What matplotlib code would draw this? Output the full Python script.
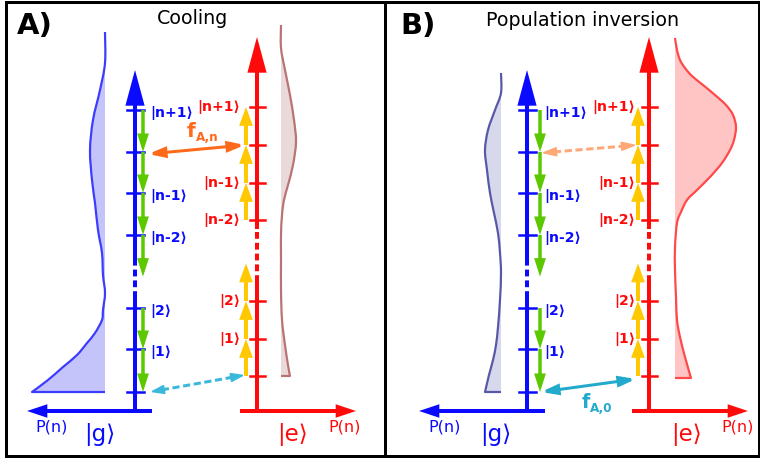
import numpy as np
import matplotlib
matplotlib.use("Agg")
import matplotlib.pyplot as plt
from matplotlib.patches import FancyArrowPatch, Rectangle, PathPatch
from matplotlib.path import Path

# energy ladders (y position of each level, px), upper and lower block
g_levels_top = [110, 152, 193, 235]
g_levels_bot = [308, 349, 392]
e_levels_top = [107, 145, 183, 220]
e_levels_bot = [301, 339, 376]

g_names_top = ["n+1", None, "n-1", "n-2"]
g_names_bot = ["2", "1", None]
e_names_top = ["n+1", None, "n-1", "n-2"]
e_names_bot = ["2", "1", None]

# P(n) profiles: y samples and width of the distribution (px)
cool_g_y = [32, 63, 90, 120, 150, 180, 203, 230, 253, 275, 293, 310, 320, 333, 343, 355, 367, 380, 392]
cool_g_p = [0, 0, 5, 12, 15, 13, 10, 7, 3, 2, 0, 2, 3, 10, 18, 28, 42, 57, 73]
cool_e_y = [25, 48, 70, 95, 120, 142, 165, 185, 200, 215, 235, 260, 290, 320, 345, 365, 376]
cool_e_p = [0, 0, 4, 9, 13, 15, 12, 7, 3, 1, 0, 0, 0, 1, 4, 7, 9]
inv_g_y = [73, 93, 110, 130, 150, 170, 193, 213, 233, 253, 273, 300, 327, 345, 360, 375, 392]
inv_g_p = [0, 0, 6, 13, 16, 14, 11, 7, 3, 1, 0, 1, 3, 5, 8, 12, 16]
inv_e_y = [38, 50, 60, 68, 76, 85, 95, 105, 115, 127, 140, 150, 163, 177, 190, 200, 212, 223, 247, 270, 297, 320, 337, 357, 378]
inv_e_p = [0, 2, 5, 10, 17, 28, 40, 51, 58, 61, 59, 55, 47, 35, 22, 12, 6, 2, 0, 0, 1, 2, 5, 10, 16]

BLUE = "#0a0aff"
RED = "#ff0a0a"
GREEN = "#5cc800"
YELLOW = "#ffc800"
ORANGE = "#ff6a1a"
CYAN = "#22aacc"

fig = plt.figure(figsize=(760 / 72, 458 / 72), dpi=72)
ax = fig.add_axes([0, 0, 1, 1])
ax.set_xlim(0, 760)
ax.set_ylim(458, 0)
ax.axis("off")


def arrow(p0, p1, color, lw, hl, hw, style="-|>", ls="-", z=3):
    a = FancyArrowPatch(p0, p1, arrowstyle=f"{style},head_length={hl},head_width={hw}",
                        mutation_scale=1, color=color, lw=lw, shrinkA=0, shrinkB=0,
                        linestyle=ls, joinstyle="miter", capstyle="butt", zorder=z)
    ax.add_patch(a)


def dashed_double(p0, p1, color, lw, hl, hw):
    p0 = np.array(p0, float)
    p1 = np.array(p1, float)
    d = (p1 - p0) / np.linalg.norm(p1 - p0)
    a0 = p0 + d * hl
    a1 = p1 - d * hl
    ax.plot([a0[0], a1[0]], [a0[1], a1[1]], color=color, lw=lw, ls=(0, (2.4, 1.2)), zorder=3)
    arrow(tuple(p0 + d * (hl + 1)), tuple(p0), color, 1.5, hl, hw)
    arrow(tuple(p1 - d * (hl + 1)), tuple(p1), color, 1.5, hl, hw)


def solid_double(p0, p1, color, lw, hl, hw):
    arrow(p0, p1, color, lw, hl, hw, style="<|-|>")


def smooth_verts(xs, ys):
    # Catmull-Rom through the read points, drawn as cubic Bezier segments
    P = np.column_stack([xs, ys]).astype(float)
    n = len(P)
    verts = [P[0]]
    codes = [Path.MOVETO]
    for i in range(n - 1):
        pm = P[max(i - 1, 0)]
        pp = P[min(i + 2, n - 1)]
        c1 = P[i] + (P[i + 1] - pm) / 6
        c2 = P[i + 1] - (pp - P[i]) / 6
        verts += [c1, c2, P[i + 1]]
        codes += [Path.CURVE4] * 3
    return verts, codes


def profile(ys, ps, base, sign, line, fill):
    ys = np.array(ys, float)
    xs = base + sign * np.array(ps, float)
    v, c = smooth_verts(xs, ys)
    fv = v + [(base, ys[-1]), (base, ys[0]), (base, ys[0])]
    fc = c + [Path.LINETO, Path.LINETO, Path.CLOSEPOLY]
    ax.add_patch(PathPatch(Path(fv, fc), fc=fill, ec="none", zorder=1))
    lv = v + [(base, ys[-1])]
    lc = c + [Path.LINETO]
    ax.add_patch(PathPatch(Path(lv, lc), fc="none", ec=line, lw=2.2, zorder=2, joinstyle="round"))


def ket(s):
    return "|" + s + "⟩"


def panel(gx, ex, gdx, edx, glx, elx, g_axis, e_axis, gap_g, gap_e):
    bottom = 411
    # ground-state axis (blue)
    ax.plot([gx, gx], [bottom + 2, gap_g[1]], color=BLUE, lw=4, solid_capstyle="butt", zorder=2)
    ax.plot([gx, gx], [gap_g[1], gap_g[0]], color=BLUE, lw=4, ls=(0, (1.7, 1.0)), zorder=2)
    arrow((gx, gap_g[0] + 1), (gx, 70), BLUE, 4, 26, 7, z=2)
    arrow((g_axis[0], bottom), (g_axis[1], bottom), BLUE, 4, 12, 4, z=2)
    # excited-state axis (red)
    ax.plot([ex, ex], [bottom + 2, gap_e[1]], color=RED, lw=4, solid_capstyle="butt", zorder=2)
    ax.plot([ex, ex], [gap_e[1], gap_e[0]], color=RED, lw=4, ls=(0, (1.7, 1.0)), zorder=2)
    arrow((ex, gap_e[0] + 1), (ex, 37), RED, 4, 26, 7, z=2)
    arrow((e_axis[0], bottom), (e_axis[1], bottom), RED, 4, 12, 4, z=2)

    # ticks and labels
    for levels, names in ((g_levels_top, g_names_top), (g_levels_bot, g_names_bot)):
        for y, nm in zip(levels, names):
            ax.plot([gx - 8, gx + 9], [y, y], color=BLUE, lw=2.5, zorder=2)
            if nm:
                ax.text(glx, y + 3, ket(nm), color=BLUE, fontsize=14, fontweight="bold",
                        ha="left", va="center")
    for levels, names in ((e_levels_top, e_names_top), (e_levels_bot, e_names_bot)):
        for y, nm in zip(levels, names):
            ax.plot([ex - 7, ex + 8], [y, y], color=RED, lw=2.5, zorder=2)
            if nm:
                ax.text(elx, y, ket(nm), color=RED, fontsize=14, fontweight="bold",
                        ha="right", va="center")

    # green (downward) sideband steps
    sp = np.mean(np.diff(g_levels_top))
    for lv in (g_levels_top + [g_levels_top[-1] + sp], g_levels_bot):
        for a, b in zip(lv[:-1], lv[1:]):
            arrow((gx + gdx, a), (gx + gdx, b), GREEN, 3.5, 11, 3.5, z=4)
    # yellow (upward) steps
    sp = np.mean(np.diff(e_levels_bot))
    for lv in (e_levels_top, [e_levels_bot[0] - sp] + e_levels_bot):
        for a, b in zip(lv[:-1], lv[1:]):
            arrow((ex + edx, b), (ex + edx, a), YELLOW, 4, 11, 4, z=4)


# frames
ax.add_patch(Rectangle((5.5, 1.5), 379, 454, fill=False, ec="black", lw=3, zorder=5))
ax.add_patch(Rectangle((384.5, 1.5), 374, 454, fill=False, ec="black", lw=3, zorder=5))

# ---- A) Cooling
profile(cool_g_y, cool_g_p, 105, -1, "#3c3cff", "#c4c4fa")
profile(cool_e_y, cool_e_p, 281, 1, "#b87474", "#e9d9d9")
panel(135, 257, 8, -11, 150, 240, (152, 27), (240, 356), (258, 298), (228, 282))
solid_double((148, 154), (245, 145), ORANGE, 3, 13, 4)
dashed_double((150, 392), (245, 375), "#3ab8dc", 3, 12, 4)
ax.text(187, 137, "f", color=ORANGE, fontsize=20, fontweight="bold", ha="left", va="baseline")
ax.text(196, 141, "A,n", color=ORANGE, fontsize=12, fontweight="bold", ha="left", va="baseline")
ax.text(17, 26, "A)", fontsize=29, fontweight="bold", ha="left", va="center")
ax.text(192, 19, "Cooling", fontsize=19, ha="center", va="center")

# ---- B) Population inversion
profile(inv_g_y, inv_g_p, 501, -1, "#5858a8", "#d8d8ec")
profile(inv_e_y, inv_e_p, 675, 1, "#ff4848", "#ffc4c4")
panel(527, 649, 13, -11, 544, 635, (545, 419), (632, 748), (258, 298), (228, 282))
dashed_double((541, 153), (637, 145), "#ffa877", 3, 13, 4)
solid_double((541, 392), (636, 379), CYAN, 3, 13, 4)
ax.text(582, 408, "f", color=CYAN, fontsize=19, fontweight="bold", ha="left", va="baseline")
ax.text(590, 412, "A,0", color=CYAN, fontsize=12, fontweight="bold", ha="left", va="baseline")
ax.text(400, 26, "B)", fontsize=29, fontweight="bold", ha="left", va="center")
ax.text(583, 20, "Population inversion", fontsize=19, ha="center", va="center")

# axis labels
for x, c in ((52, BLUE), (345, RED), (445, BLUE), (738, RED)):
    ax.text(x, 427, "P(n)", color=c, fontsize=16, ha="center", va="center")
for x, s, c in ((100, "|g⟩", BLUE), (293, "|e⟩", RED), (496, "|g⟩", BLUE), (687, "|e⟩", RED)):
    ax.text(x, 435, s, color=c, fontsize=23, ha="center", va="center")

fig.savefig("out.png", dpi=72)
